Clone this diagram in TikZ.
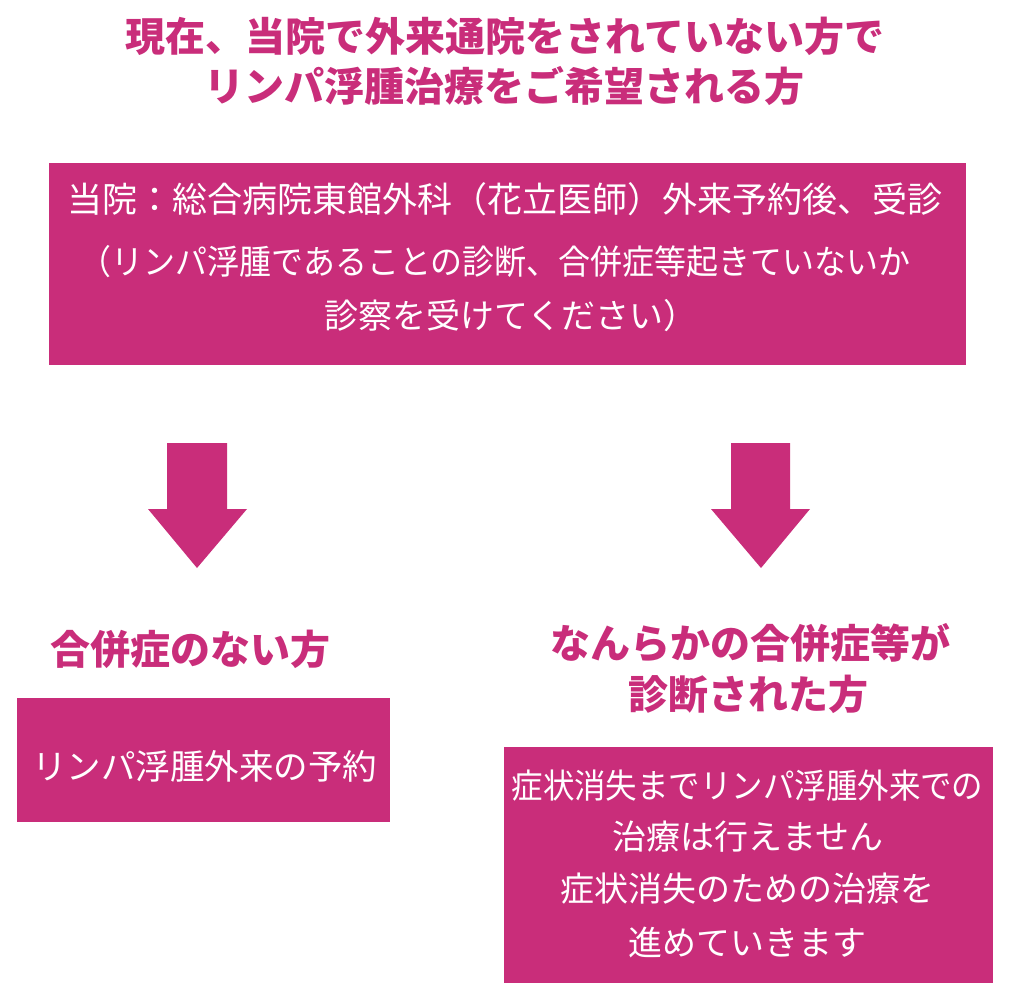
\documentclass[tikz,border=0pt]{standalone}
\usepackage{fontspec}
\newfontfamily\jp{Noto Sans CJK JP}
\definecolor{mag}{RGB}{201,45,122}
\tikzset{
  boxfill/.style={fill=mag, draw=none},
  head/.style={text=mag, font=\jp\bfseries\fontsize{40}{48}\selectfont, inner sep=0pt, anchor=center},
  body/.style={text=white, font=\jp\fontsize{34}{40}\selectfont, inner sep=0pt, anchor=center},
  blockarrow/.style={fill=mag, draw=none}
}
\begin{document}
\begin{tikzpicture}[x=1pt,y=-1pt]
\useasboundingbox (0,0) rectangle (1024,1000);
% title
\node[head] (t1) at (505,36) {現在、当院で外来通院をされていない方で};
\node[head] (t2) at (504,86) {リンパ浮腫治療をご希望される方};
% top box
\path[boxfill] (49,163) rectangle (966,365);
\coordinate (topbox) at (507.5,264);
\node[body,font=\jp\fontsize{35}{40}\selectfont] (b1) at (505,199) {当院：総合病院東館外科（花立医師）外来予約後、受診};
\node[body] (b2) at (495,262) {\scalebox{0.94}[1]{（リンパ浮腫であることの診断、合併症等起きていないか}};
\node[body] (b3) at (511,316) {診察を受けてください）};
% arrows
\path[blockarrow] (167,443) -- (227,443) -- (227,509) -- (247,509) -- (197,568) -- (148,509) -- (167,509) -- cycle;
\path[blockarrow] (731,443) -- (790,443) -- (790,509) -- (810,509) -- (761,568) -- (711,509) -- (731,509) -- cycle;
% left branch
\node[head] (h1) at (190,649) {合併症のない方};
\path[boxfill] (17,698) rectangle (390,822);
\node[body,font=\jp\fontsize{34.5}{40}\selectfont] (l1) at (204.5,766) {リンパ浮腫外来の予約};
% right branch
\node[head] (h2) at (750,643) {なんらかの合併症等が};
\node[head] (h3) at (748,694) {診断された方};
\path[boxfill] (504,747) rectangle (993,983);
\node[body] (r1) at (747.5,786) {\scalebox{0.925}[1]{症状消失までリンパ浮腫外来での}};
\node[body] (r2) at (747.5,837) {治療は行えません};
\node[body] (r3) at (747.5,889) {症状消失のための治療を};
\node[body] (r4) at (747.5,942) {進めていきます};
\end{tikzpicture}
\end{document}
